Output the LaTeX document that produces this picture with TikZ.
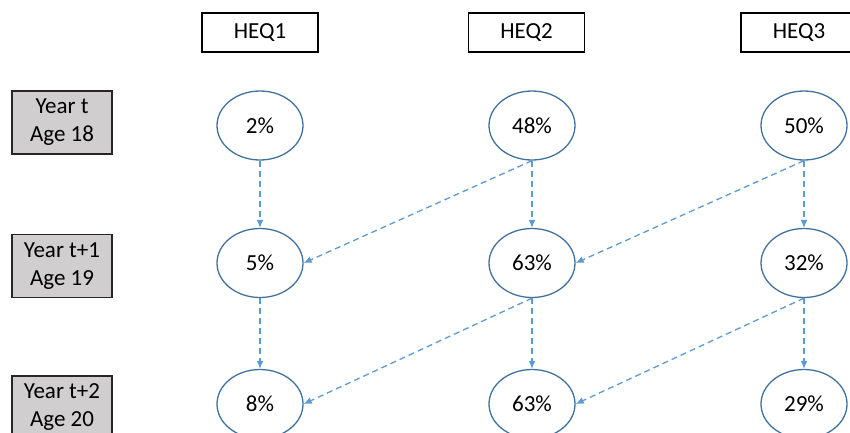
\documentclass[tikz,border=0pt]{standalone}
\usepackage{fontspec}
\setmainfont{Carlito}
\usetikzlibrary{shapes.geometric,arrows.meta}
\definecolor{ellblue}{HTML}{41719C}
\definecolor{arrblue}{HTML}{5B9BD5}
\definecolor{boxgray}{HTML}{D0CECE}
\tikzset{
  heqbox/.style={draw=black, line width=1.4pt, minimum width=116pt, minimum height=39pt, inner sep=0pt, font=\fontsize{23}{28}\selectfont},
  yearbox/.style={draw=black!85, fill=boxgray, line width=1.2pt, minimum width=100pt, minimum height=63pt, inner sep=0pt, align=center, font=\fontsize{23}{28}\selectfont},
  prob/.style={draw=ellblue, ellipse, line width=1.3pt, minimum width=86pt, minimum height=69pt, inner sep=0pt, font=\fontsize{23}{28}\selectfont},
  trans/.style={draw=arrblue, line width=1.3pt, dash pattern=on 6pt off 4pt, -{Latex[length=8pt,width=7pt]}}
}
\begin{document}
\begin{tikzpicture}[x=1pt,y=-1pt]
\useasboundingbox (0,0) rectangle (850,432);
\node[heqbox] (h1) at (260,32.5) {HEQ1};
\node[heqbox] (h2) at (526.5,32.5) {HEQ2};
\node[heqbox] (h3) at (799,32.5) {HEQ3};
\node[yearbox] (y0) at (62,122.5) {Year t\\Age 18};
\node[yearbox] (y1) at (62,266) {Year t+1\\Age 19};
\node[yearbox] (y2) at (62,407.5) {Year t+2\\Age 20};
\node[prob] (a0) at (260,125.5) {2\%};
\node[prob] (b0) at (532,125.5) {48\%};
\node[prob] (c0) at (804,125.5) {50\%};
\node[prob] (a1) at (260,263) {5\%};
\node[prob] (b1) at (532,263) {63\%};
\node[prob] (c1) at (804,263) {32\%};
\node[prob] (a2) at (260,404) {8\%};
\node[prob] (b2) at (532,404) {63\%};
\node[prob] (c2) at (804,404) {29\%};
\draw[trans] (a0.south) -- (a1.north);
\draw[trans] (b0.south) -- (b1.north);
\draw[trans] (c0.south) -- (c1.north);
\draw[trans] (a1.south) -- (a2.north);
\draw[trans] (b1.south) -- (b2.north);
\draw[trans] (c1.south) -- (c2.north);
\draw[trans] (b0.south) -- (a1.east);
\draw[trans] (c0.south) -- (b1.east);
\draw[trans] (b1.south) -- (a2.east);
\draw[trans] (c1.south) -- (b2.east);
\end{tikzpicture}
\end{document}
